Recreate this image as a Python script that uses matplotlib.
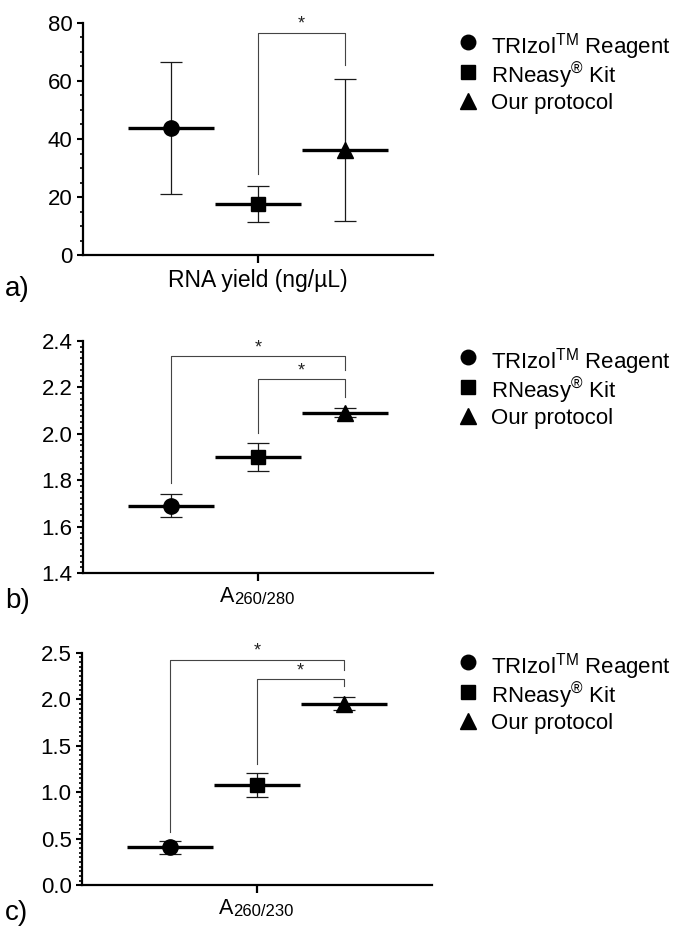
import matplotlib
matplotlib.use("Agg")
import matplotlib.pyplot as plt
from matplotlib.lines import Line2D
from matplotlib.ticker import MultipleLocator
import matplotlib.transforms as mtransforms

plt.rcParams['font.family'] = ['Liberation Sans', 'DejaVu Sans']
plt.rcParams['mathtext.fontset'] = 'custom'
plt.rcParams['mathtext.rm'] = 'Liberation Sans'
plt.rcParams['mathtext.it'] = 'Liberation Sans:italic'
plt.rcParams['mathtext.bf'] = 'Liberation Sans:bold'

# ---------------- data ----------------
methods = ['TRIzol$^{\\mathrm{TM}}$ Reagent', 'RNeasy$^{\\mathrm{®}}$ Kit', 'Our protocol']
markers = ['o', 's', '^']
marker_sizes = [11, 10, 12]
xpos = [-1, 0, 1]

yield_mean = [43.7, 17.6, 36.3]
yield_sd = [22.7, 6.2, 24.5]

a280_mean = [1.69, 1.90, 2.09]
a280_sd = [0.05, 0.06, 0.02]

a230_mean = [0.41, 1.08, 1.95]
a230_sd = [0.07, 0.13, 0.07]

# brackets: (left group, right group, height, left leg bottom, right leg bottom)
yield_brackets = [(1, 2, 76.7, 28.1, 65.5)]
a280_brackets = [(0, 2, 2.334, 1.787, 2.274), (1, 2, 2.234, 2.002, 2.159)]
a230_brackets = [(0, 2, 2.424, 0.576, 2.317), (1, 2, 2.213, 1.303, 2.140)]

W, H = 676, 951
fig = plt.figure(figsize=(W / 100, H / 100), dpi=100)


def px_axes(left, right, top, bottom):
    return fig.add_axes([left / W, 1 - bottom / H, (right - left) / W, (bottom - top) / H])


def manual_legend(first_row_px):
    for i, (mk, ms, lab) in enumerate(zip(markers, marker_sizes, methods)):
        y = 1 - (first_row_px + i * 29.5) / H
        fig.add_artist(Line2D([468 / W], [y], marker=mk, color='black', ms=ms * 0.95,
                              ls='none', transform=fig.transFigure))
        fig.text(491 / W, y, lab, fontsize=16, ha='left', va='center_baseline')


def draw_panel(ax, means, sds, brackets, ylim, major, minor):
    for x, m, s, mk, ms in zip(xpos, means, sds, markers, marker_sizes):
        ax.errorbar([x], [m], yerr=[s], fmt='none', ecolor='#1a1a1a', elinewidth=0.9,
                    capsize=8, capthick=0.9, zorder=2)
        ax.plot([x - 0.49, x + 0.49], [m, m], color='black', lw=2.4, solid_capstyle='butt', zorder=3)
        ax.plot([x], [m], marker=mk, color='black', ms=ms, ls='none', zorder=4)
    for (i, j, h, b1, b2) in brackets:
        x1, x2 = xpos[i], xpos[j]
        ax.plot([x1, x1, x2, x2], [b1, h, h, b2], color='#444444', lw=0.8, zorder=1)
        ax.text((x1 + x2) / 2, h, '*', ha='center', va='bottom', fontsize=13, color='#222222')
    ax.set_xlim(-2.01, 2.01)
    ax.set_ylim(*ylim)
    ax.yaxis.set_major_locator(MultipleLocator(major))
    ax.yaxis.set_minor_locator(MultipleLocator(minor))
    for sp in ['top', 'right']:
        ax.spines[sp].set_visible(False)
    for sp in ['left', 'bottom']:
        ax.spines[sp].set_linewidth(1.6)
    ax.tick_params(axis='y', which='major', length=4.5, width=1.5, labelsize=16, pad=3)
    ax.tick_params(axis='y', which='minor', length=2.5, width=1.2)
    ax.tick_params(axis='x', which='major', length=6, width=1.6, labelsize=16.5, pad=4)
    ax.set_xticks([0])


def sub_label(ax, sub):
    trans = mtransforms.blended_transform_factory(ax.transData, ax.transAxes)
    t1 = ax.annotate('A', xy=(0, 0), xycoords=trans, xytext=(-27.5, -9), textcoords='offset points',
                     ha='left', va='top', fontsize=15.5)
    ax.annotate(sub, xy=(1, 0), xycoords=t1, ha='left', va='bottom', fontsize=12)


# panel a
ax1 = px_axes(83, 433, 23, 255)
draw_panel(ax1, yield_mean, yield_sd, yield_brackets, (0, 80), 20, 5)
ax1.set_xticklabels(['RNA yield (ng/µL)'])
manual_legend(42)

# panel b
ax2 = px_axes(83, 433, 340.7, 573.3)
draw_panel(ax2, a280_mean, a280_sd, a280_brackets, (1.4, 2.4), 0.2, 0.025)
ax2.set_yticks([1.4, 1.6, 1.8, 2.0, 2.2, 2.4])
ax2.set_yticklabels(['1.4', '1.6', '1.8', '2.0', '2.2', '2.4'])
ax2.set_xticklabels([''])
sub_label(ax2, '260/280')
manual_legend(357)

# panel c
ax3 = px_axes(82, 432, 652.7, 885.3)
draw_panel(ax3, a230_mean, a230_sd, a230_brackets, (0, 2.5), 0.5, 0.05)
ax3.set_yticks([0.0, 0.5, 1.0, 1.5, 2.0, 2.5])
ax3.set_yticklabels(['0.0', '0.5', '1.0', '1.5', '2.0', '2.5'])
ax3.set_xticklabels([''])
sub_label(ax3, '260/230')
manual_legend(662)

for lab, ypix in [('a)', 289), ('b)', 601), ('c)', 913)]:
    fig.text(5 / W, 1 - ypix / H, lab, fontsize=20, ha='left', va='center')

fig.savefig('out.png', dpi=100)
